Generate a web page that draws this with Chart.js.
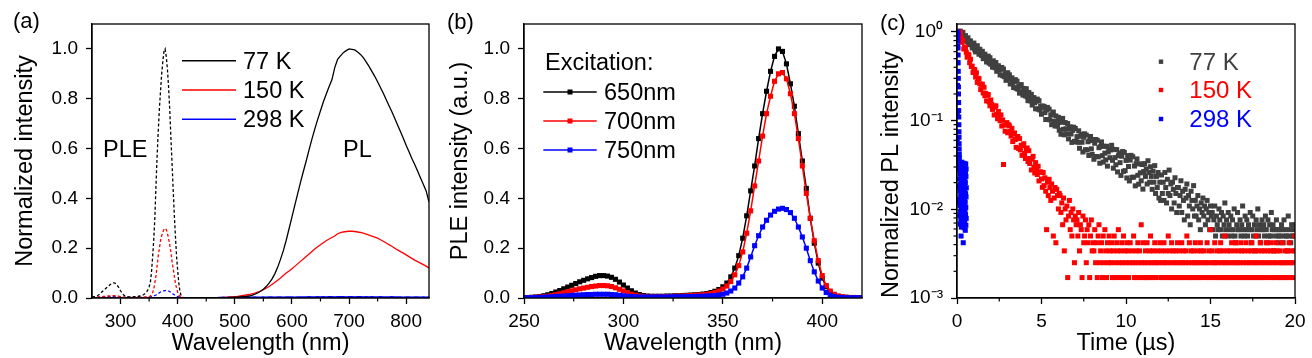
<!DOCTYPE html>
<html>
<head>
<meta charset="utf-8">
<script src="https://cdn.jsdelivr.net/npm/chart.js"></script>
<style>
html,body{margin:0;padding:0;background:#fff;}
#wrap{position:relative;width:1312px;height:358px;overflow:hidden;background:#fff;}
canvas{position:absolute;top:0;}
</style>
</head>
<body>
<div id="wrap">
<canvas id="ca" width="440" height="358" style="left:0px"></canvas>
<canvas id="cb" width="435" height="358" style="left:440px"></canvas>
<canvas id="cc" width="437" height="358" style="left:875px"></canvas>
</div>
<script>
// ---------------- DATA ----------------
const panelLabels = ['(a)', '(b)', '(c)'];
const regionLabels = ['PLE', 'PL'];
const tempLabels = ['77 K', '150 K', '298 K'];
const excitationTitle = 'Excitation:';
const excitationLabels = ['650nm', '700nm', '750nm'];

// (a) PLE (dashed) sampled 250..410 nm every 2 nm
const pleStartA = 250, pleEndA = 410, pleStepA = 2;
const ple77 = [0.003,0.004,0.005,0.006,0.008,0.010,0.013,0.017,0.021,0.026,
  0.030,0.034,0.038,0.042,0.046,0.050,0.054,0.057,0.060,0.061,
  0.060,0.057,0.052,0.045,0.037,0.029,0.022,0.016,0.011,0.008,
  0.006,0.005,0.004,0.004,0.004,0.004,0.004,0.005,0.005,0.006,
  0.006,0.007,0.008,0.009,0.011,0.013,0.016,0.020,0.026,0.034,
  0.045,0.060,0.100,0.160,0.230,0.320,0.450,0.570,0.670,0.760,
  0.830,0.900,0.950,0.990,1.000,0.970,0.920,0.850,0.760,0.650,
  0.550,0.440,0.340,0.250,0.170,0.110,0.060,0.025,0.010,0.004,
  0.002];
const ple150 = [0.002,0.002,0.002,0.003,0.003,0.003,0.004,0.004,0.005,0.005,
  0.006,0.006,0.007,0.007,0.008,0.008,0.008,0.009,0.009,0.009,
  0.009,0.008,0.008,0.007,0.006,0.005,0.004,0.003,0.003,0.002,
  0.002,0.002,0.002,0.002,0.002,0.002,0.002,0.002,0.002,0.002,
  0.002,0.002,0.002,0.003,0.003,0.003,0.003,0.004,0.004,0.005,
  0.006,0.008,0.012,0.020,0.035,0.060,0.090,0.130,0.170,0.200,
  0.230,0.250,0.265,0.275,0.280,0.275,0.260,0.240,0.215,0.185,
  0.150,0.120,0.090,0.060,0.040,0.022,0.012,0.006,0.003,0.002,
  0.001];
const ple298 = [0.002,0.002,0.002,0.002,0.003,0.003,0.003,0.003,0.004,0.004,
  0.004,0.004,0.005,0.005,0.005,0.005,0.005,0.006,0.006,0.006,
  0.006,0.005,0.005,0.005,0.004,0.004,0.003,0.003,0.002,0.002,
  0.002,0.002,0.002,0.002,0.002,0.002,0.002,0.002,0.002,0.002,
  0.002,0.002,0.002,0.002,0.002,0.002,0.002,0.002,0.003,0.003,
  0.003,0.004,0.005,0.006,0.008,0.010,0.012,0.015,0.018,0.021,
  0.024,0.026,0.028,0.029,0.030,0.031,0.030,0.028,0.026,0.023,
  0.020,0.016,0.013,0.010,0.007,0.005,0.004,0.003,0.002,0.001,
  0.001];

// (a) PL (solid) sampled 470..840 nm every 5 nm
const plStartA = 470, plEndA = 840, plStepA = 5;
const pl77 = [0.000,0.001,0.001,0.001,0.002,0.002,0.003,0.003,0.004,0.005,
  0.006,0.008,0.011,0.015,0.020,0.027,0.035,0.046,0.060,0.076,
  0.097,0.123,0.155,0.190,0.232,0.278,0.325,0.372,0.418,0.464,
  0.508,0.550,0.595,0.638,0.678,0.716,0.752,0.787,0.818,0.848,
  0.876,0.925,0.958,0.972,0.985,0.993,1.000,0.998,0.996,0.988,
  0.978,0.965,0.948,0.930,0.910,0.890,0.868,0.845,0.822,0.797,
  0.772,0.748,0.722,0.695,0.668,0.641,0.613,0.587,0.560,0.536,
  0.510,0.483,0.457,0.430,0.385];
const pl150 = [0.001,0.001,0.002,0.002,0.003,0.004,0.005,0.006,0.008,0.010,
  0.012,0.014,0.017,0.020,0.024,0.028,0.033,0.039,0.046,0.054,
  0.062,0.071,0.080,0.090,0.100,0.108,0.117,0.127,0.137,0.147,
  0.157,0.167,0.177,0.187,0.197,0.206,0.214,0.222,0.230,0.237,
  0.243,0.249,0.258,0.262,0.265,0.267,0.268,0.268,0.267,0.265,
  0.263,0.260,0.256,0.252,0.248,0.244,0.240,0.234,0.228,0.221,
  0.214,0.208,0.200,0.193,0.186,0.180,0.173,0.166,0.159,0.152,
  0.146,0.140,0.134,0.128,0.120];
const pl298 = [0.002,0.002,0.003,0.002,0.003,0.003,0.002,0.003,0.003,0.003,
  0.004,0.003,0.003,0.004,0.003,0.003,0.004,0.003,0.004,0.004,
  0.003,0.004,0.004,0.003,0.004,0.004,0.004,0.003,0.004,0.004,
  0.004,0.004,0.005,0.004,0.004,0.005,0.004,0.005,0.004,0.005,
  0.005,0.004,0.005,0.005,0.005,0.004,0.005,0.005,0.004,0.005,
  0.005,0.004,0.005,0.004,0.005,0.004,0.004,0.005,0.004,0.004,
  0.004,0.005,0.004,0.004,0.004,0.003,0.004,0.004,0.003,0.004,
  0.004,0.003,0.004,0.003,0.004];

// (b) PLE sampled 250..420 nm every 2 nm
const pleStartB = 250, pleEndB = 420, pleStepB = 2;
const ple650 = [0.002,0.002,0.003,0.004,0.006,0.009,0.013,0.018,0.024,0.030,
  0.037,0.044,0.051,0.058,0.065,0.071,0.077,0.082,0.087,0.090,
  0.090,0.088,0.083,0.075,0.064,0.052,0.040,0.029,0.020,0.014,
  0.010,0.008,0.007,0.007,0.007,0.007,0.008,0.008,0.009,0.009,
  0.010,0.011,0.012,0.013,0.014,0.016,0.018,0.022,0.027,0.034,
  0.045,0.060,0.085,0.120,0.170,0.240,0.330,0.430,0.530,0.640,
  0.740,0.830,0.910,0.970,1.000,0.990,0.940,0.860,0.770,0.660,
  0.550,0.440,0.320,0.220,0.140,0.080,0.045,0.024,0.013,0.007,
  0.004,0.003,0.002,0.002,0.001,0.001];
const ple700 = [0.001,0.001,0.002,0.003,0.004,0.005,0.007,0.010,0.013,0.017,
  0.021,0.025,0.029,0.033,0.037,0.040,0.043,0.046,0.048,0.050,
  0.050,0.049,0.046,0.041,0.035,0.028,0.021,0.015,0.011,0.008,
  0.006,0.005,0.005,0.005,0.005,0.005,0.006,0.006,0.007,0.007,
  0.008,0.009,0.010,0.011,0.012,0.013,0.015,0.018,0.022,0.028,
  0.036,0.048,0.066,0.093,0.130,0.185,0.260,0.350,0.450,0.550,
  0.650,0.740,0.810,0.870,0.900,0.905,0.880,0.820,0.740,0.640,
  0.530,0.420,0.320,0.230,0.150,0.090,0.050,0.028,0.015,0.008,
  0.005,0.003,0.002,0.002,0.001,0.001];
const ple750 = [0.001,0.001,0.001,0.002,0.002,0.003,0.004,0.005,0.006,0.007,
  0.008,0.009,0.010,0.011,0.012,0.013,0.014,0.014,0.015,0.015,
  0.015,0.015,0.014,0.013,0.011,0.009,0.007,0.006,0.005,0.004,
  0.004,0.004,0.004,0.004,0.004,0.004,0.004,0.005,0.005,0.005,
  0.005,0.006,0.006,0.006,0.007,0.007,0.008,0.009,0.010,0.012,
  0.015,0.020,0.028,0.040,0.060,0.085,0.120,0.165,0.210,0.250,
  0.285,0.312,0.333,0.348,0.357,0.360,0.355,0.343,0.320,0.285,
  0.245,0.200,0.150,0.105,0.068,0.040,0.022,0.012,0.006,0.003,
  0.002,0.001,0.001,0.001,0.001,0.001];

// (c) decay curves: 77 K and 150 K from 0.10 us every 0.05 us; 298 K from 0 us every 0.005 us
const decayStart = 0.10, decayStep = 0.05;
const decay77 = [
  1.02,0.95,1.02,0.88,0.98,0.99,0.87,0.81,0.91,0.84,0.78,0.86,0.72,0.79,0.79,0.72,0.66,0.73,0.75,0.63,
  0.596,0.68,0.70,0.603,0.561,0.639,0.585,0.543,0.605,0.50,0.556,0.562,0.51,0.459,0.52,0.534,0.446,0.512,0.432,0.461,
  0.401,0.473,0.428,0.395,0.452,0.36,0.41,0.416,0.371,0.328,0.384,0.398,0.322,0.382,0.314,0.339,0.285,0.336,0.347,0.293,
  0.329,0.259,0.298,0.304,0.269,0.236,0.279,0.29,0.232,0.279,0.226,0.246,0.204,0.245,0.255,0.212,0.194,0.231,0.207,0.19,
  0.229,0.186,0.168,0.208,0.184,0.167,0.198,0.15,0.178,0.182,0.159,0.136,0.166,0.175,0.135,0.168,0.132,0.146,0.118,0.146,
  0.141,0.145,0.123,0.103,0.132,0.141,0.103,0.135,0.102,0.116,0.09,0.118,0.125,0.098,0.087,0.113,0.098,0.087,0.109,0.078,
  0.0955,0.0702,0.0982,0.106,0.0799,0.0692,0.0952,0.081,0.0712,0.0927,0.0622,0.0814,0.0851,0.0707,0.0568,0.0779,0.0843,0.0585,0.0815,0.0582,
  0.066,0.0569,0.0768,0.0488,0.0667,0.0702,0.057,0.0443,0.0649,0.0711,0.047,0.0686,0.0468,0.0578,0.0405,0.0596,0.0663,0.0481,0.0416,0.0599,
  0.0367,0.0556,0.0613,0.0394,0.0601,0.0391,0.0496,0.0331,0.0513,0.0576,0.0403,0.0341,0.0514,0.043,0.0361,0.0514,0.0307,0.0444,0.0473,0.0382,
  0.0467,0.0527,0.0357,0.0291,0.0474,0.0383,0.0318,0.0471,0.0264,0.0402,0.0433,0.0336,0.0241,0.0397,0.0448,0.0268,0.0439,0.0273,0.0356,0.0226,
  0.0403,0.0304,0.0209,0.0359,0.0406,0.0229,0.0392,0.0231,0.0308,0.0184,0.0327,0.037,0.0242,0.0192,0.0326,0.0258,0.021,0.032,0.0169,0.0267,
  0.0328,0.0235,0.0286,0.0193,0.0353,0.026,0.0202,0.0302,0.0235,0.0168,0.0269,0.0202,0.0311,0.0151,0.0235,0.0176,0.026,0.0134,0.0202,0.0126,
  0.0244,0.0151,0.0202,0.0126,0.026,0.0176,0.0118,0.0218,0.0151,0.0277,0.0143,0.0193,0.0101,0.0202,0.0168,0.0118,0.0227,0.0151,0.0092,0.0176,
  0.0176,0.0109,0.0143,0.021,0.0092,0.016,0.0126,0.0076,0.0168,0.0134,0.0193,0.0084,0.0143,0.0109,0.0067,0.016,0.0126,0.0101,0.0185,0.0084,
  0.0126,0.0084,0.0109,0.0143,0.0076,0.0101,0.0059,0.0118,0.0092,0.0134,0.0084,0.0109,0.0067,0.0101,0.0126,0.0076,0.0092,0.0059,0.0109,0.0084,
  0.0092,0.0059,0.0076,0.0109,0.005,0.0084,0.0067,0.0059,0.0101,0.0076,0.0059,0.0092,0.005,0.0084,0.0067,0.0118,0.0059,0.0076,0.005,0.0092,
  0.0067,0.0059,0.0084,0.005,0.0076,0.0059,0.0101,0.005,0.0042,0.0067,0.0092,0.0059,0.0059,0.0076,0.005,0.0067,0.0109,0.0059,0.005,0.0084,
  0.0059,0.0076,0.005,0.0067,0.0059,0.0092,0.0042,0.0059,0.0084,0.005,0.0067,0.0034,0.0076,0.0059,0.0101,0.005,0.0067,0.0042,0.0059,0.0076,
  0.0059,0.0067,0.005,0.0084,0.0059,0.0042,0.0076,0.005,0.0067,0.005,0.0092,0.0059,0.0067,0.0034,0.0059,0.005,0.0076,0.0059,0.0042,0.005,
  0.0059,0.005,0.0067,0.0059,0.0042,0.0076,0.005,0.0059,0.005,0.0034,0.0084,0.005,0.0059,0.0042,0.0067,0.005,0.0059,0.005,0.0067];
const decay150 = [
  0.954,1.0,0.989,0.86,0.764,0.799,0.643,0.678,0.664,0.589,0.519,0.559,0.551,0.45,0.492,0.407,0.412,0.349,0.378,0.376,
  0.31,0.346,0.27,0.3,0.298,0.26,0.224,0.256,0.258,0.205,0.238,0.191,0.203,0.167,0.193,0.197,0.163,0.147,0.171,0.152,
  0.134,0.146,0.116,0.142,0.147,0.118,0.105,0.127,0.111,0.1,0.116,0.087,0.102,0.032,0.089,0.076,0.092,0.095,0.073,0.09,
  0.0873,0.0755,0.0669,0.0818,0.0582,0.0711,0.0726,0.0612,0.05,0.0632,0.0662,0.0485,0.0627,0.0468,0.0528,0.0406,0.0523,0.0549,0.0426,0.0374,
  0.0467,0.0492,0.0346,0.0458,0.0329,0.0374,0.0278,0.0369,0.0396,0.0299,0.0257,0.0336,0.0285,0.0247,0.0306,0.0209,0.0261,0.0265,0.022,0.0177,
  0.026,0.0185,0.0227,0.016,0.0059,0.0202,0.0143,0.0218,0.0176,0.0126,0.0193,0.016,0.005,0.0134,0.0176,0.0042,0.0168,0.0143,0.0101,0.0151,
  0.0143,0.0092,0.0118,0.0067,0.0134,0.0034,0.0101,0.0076,0.0109,0.0017,0.0084,0.0126,0.0059,0.0092,0.005,0.0101,0.0076,0.0025,0.0084,0.0067,
  0.0076,0.005,0.0092,0.0034,0.0067,0.0059,0.0017,0.0084,0.0042,0.005,0.0076,0.0025,0.0059,0.0042,0.0067,0.0017,0.005,0.0076,0.0034,0.0042,
  0.0034,0.0059,0.0025,0.0042,0.0017,0.005,0.0067,0.0025,0.0034,0.0042,0.0017,0.005,0.0025,0.0059,0.0034,0.0017,0.0042,0.0025,0.005,0.0034,
  0.0025,0.0042,0.0017,0.0034,0.005,0.0025,0.0017,0.0042,0.0034,0.0059,0.0025,0.0017,0.0034,0.0042,0.0025,0.005,0.0017,0.0034,0.0025,0.0042,
  0.0034,0.0017,0.0025,0.0042,0.0008,0.0034,0.0025,0.005,0.0017,0.0025,0.0034,0.0017,0.0042,0.0025,0.0034,0.0017,0.0067,0.0025,0.0042,0.0017,
  0.0025,0.0034,0.0017,0.0042,0.0025,0.0017,0.0034,0.005,0.0025,0.0017,0.0034,0.0025,0.0042,0.0017,0.0025,0.0034,0.0008,0.0025,0.0042,0.0017,
  0.0034,0.0025,0.0017,0.0042,0.0025,0.0034,0.0017,0.0025,0.005,0.0017,0.0034,0.0025,0.0042,0.0017,0.0034,0.0025,0.0017,0.0034,0.0025,0.0042,
  0.0017,0.0034,0.0025,0.0017,0.0042,0.0025,0.0034,0.0017,0.0025,0.0034,0.005,0.0017,0.0025,0.0042,0.0017,0.0034,0.0025,0.0017,0.0034,0.0025,
  0.0042,0.0017,0.0025,0.0034,0.0017,0.0025,0.0042,0.0034,0.0017,0.0025,0.0034,0.0008,0.0025,0.0017,0.0042,0.0025,0.0034,0.0017,0.0059,0.0025,
  0.0034,0.0017,0.0025,0.0042,0.0025,0.0017,0.0034,0.0025,0.0017,0.0034,0.0042,0.0025,0.0017,0.0034,0.0025,0.005,0.0017,0.0025,0.0034,0.0017,
  0.0025,0.0034,0.0017,0.0042,0.0025,0.0017,0.0034,0.0025,0.0042,0.0017,0.0025,0.0034,0.0017,0.0025,0.0042,0.0034,0.0017,0.0025,0.0034,0.0017,
  0.0042,0.0025,0.0017,0.0034,0.0025,0.0017,0.0034,0.0042,0.0025,0.0017,0.0034,0.0025,0.005,0.0017,0.0025,0.0034,0.0017,0.0042,0.0025,0.0034,
  0.0017,0.0025,0.0034,0.0017,0.0042,0.0025,0.0034,0.0017,0.0025,0.0034,0.0042,0.0017,0.0025,0.0034,0.0017,0.0025,0.0042,0.0034,0.0017,0.0025,
  0.0034,0.0017,0.0025,0.0042,0.0025,0.0017,0.0034,0.0025,0.0017,0.0034,0.0025,0.0042,0.0017,0.0025,0.0034,0.0017,0.0025,0.0034,0.005];
const fastStart = 0.00, fastStep = 0.005;
const decay298 = [0.012,0.018,0.03,0.06,0.12,0.25,0.45,0.7,0.9,1.0,0.95,0.8,0.66,0.55,0.45,0.36,0.3,0.24,0.2,0.16,
  0.13,0.11,0.09,0.075,0.065,0.055,0.048,0.042,0.038,0.034,0.031,
  0.028,0.013,0.022,0.0085,0.031,0.016,0.011,0.025,0.0068,0.019,
  0.033,0.0095,0.014,0.027,0.0075,0.021,0.012,0.005,0.03,0.017,
  0.0063,0.024,0.0105,0.029,0.015,0.0082,0.02,0.034,0.0118,0.0072,
  0.026,0.018,0.0092,0.032,0.0135,0.0065,0.023,0.0155,0.0088,0.028,
  0.011,0.0195,0.0078,0.0042,0.025,0.0125,0.031,0.0068,0.017,0.0215,
  0.0098,0.027,0.0145,0.0062,0.033,0.0112,0.0185,0.0082,0.024,0.013,
  0.0295,0.0071,0.016,0.0225,0.0095,0.0305,0.012,0.0058,0.02,0.026,
  0.0087,0.015,0.0325,0.0105,0.0066,0.0235,0.0138,0.0285,0.0079,0.0175];

// tick labels
const xTicksA = [300, 400, 500, 600, 700, 800];
const xMinorA = [350, 450, 550, 650, 750];
const yTicksAB = [0, 0.2, 0.4, 0.6, 0.8, 1.0];
const xTicksB = [250, 300, 350, 400];
const xMinorB = [275, 325, 375];
const xTicksC = [0, 5, 10, 15, 20];
const xMinorC = [2.5, 7.5, 12.5, 17.5];
const yTicksC = [0.001, 0.01, 0.1, 1];
const yTickLabelsC = ['10\u207B\u00B3', '10\u207B\u00B2', '10\u207B\u00B9', '10\u2070'];
const yMinorC = [0.002,0.003,0.004,0.005,0.006,0.007,0.008,0.009,0.02,0.03,0.04,0.05,0.06,0.07,0.08,0.09,0.2,0.3,0.4,0.5,0.6,0.7,0.8,0.9];

// ---------------- HELPERS ----------------
const FONT = "'Liberation Sans', Arial, Helvetica, sans-serif";
Chart.defaults.font.family = FONT;
Chart.defaults.color = '#000';
Chart.defaults.animation = false;

function grid(a, b, step) { const out = []; const n = Math.round((b - a) / step); for (let i = 0; i <= n; i++) out.push(+(a + i * step).toFixed(3)); return out; }
function seq(start, step, n) { const out = []; for (let i = 0; i < n; i++) out.push(+(start + i * step).toFixed(3)); return out; }
function pts(xs, ys) { return ys.map((y, i) => ({ x: xs[i], y })); }

const wlPleA = grid(pleStartA, pleEndA, pleStepA);
const wlPlA = grid(plStartA, plEndA, plStepA);
const wlB = grid(pleStartB, pleEndB, pleStepB);
const tSlow = seq(decayStart, decayStep, decay77.length);
const tFast = seq(fastStart, fastStep, decay298.length);

const COLORS = { k: '#000000', r: '#ff0000', b: '#0000ff', g: '#404040' };

function xAxis(min, max, ticks, title, height) {
  return {
    type: 'linear', min, max,
    afterBuildTicks: s => { s.ticks = ticks.map(v => ({ value: v })); },
    afterFit: s => { s.height = height; },
    ticks: { font: { size: 19 }, color: '#000', padding: 6, maxRotation: 0, autoSkip: false, callback: v => String(v) },
    grid: { display: true, drawOnChartArea: false, drawTicks: true, tickLength: 6, tickWidth: 1.3, color: '#000' },
    border: { display: true, color: '#000', width: 1.3 },
    title: { display: true, text: title, color: '#000', font: { size: 23.5 }, padding: { top: 0, bottom: 0 } }
  };
}
function yAxisLin(min, max, ticks, title, width, titlePad) {
  return {
    type: 'linear', min, max,
    afterBuildTicks: s => { s.ticks = ticks.map(v => ({ value: v })); },
    afterFit: s => { s.width = width; },
    ticks: { font: { size: 19 }, color: '#000', padding: 8, autoSkip: false, callback: v => Number(v).toFixed(1) },
    grid: { display: true, drawOnChartArea: false, drawTicks: true, tickLength: 6, tickWidth: 1.3, color: '#000' },
    border: { display: true, color: '#000', width: 1.3 },
    title: { display: true, text: title, color: '#000', font: { size: 23.5 }, padding: { top: titlePad, bottom: 0 } }
  };
}

const framePlugin = {
  id: 'frame',
  afterDatasetsDraw(chart, args, opts) {
    const { ctx, chartArea: a, scales } = chart;
    ctx.save();
    ctx.strokeStyle = '#000';
    ctx.lineWidth = 1.3;
    ctx.strokeRect(a.left, a.top, a.right - a.left, a.bottom - a.top);
    ctx.lineWidth = 1.2;
    (opts.minorX || []).forEach(v => {
      const x = scales.x.getPixelForValue(v);
      ctx.beginPath(); ctx.moveTo(x, a.bottom); ctx.lineTo(x, a.bottom + 3.5); ctx.stroke();
    });
    (opts.minorY || []).forEach(v => {
      const y = scales.y.getPixelForValue(v);
      ctx.beginPath(); ctx.moveTo(a.left, y); ctx.lineTo(a.left - 3.5, y); ctx.stroke();
    });
    ctx.restore();
  }
};

function txt(ctx, s, x, y, size, color) {
  ctx.font = size + 'px ' + FONT;
  ctx.fillStyle = color || '#000';
  ctx.textAlign = 'left';
  ctx.textBaseline = 'alphabetic';
  ctx.fillText(s, x, y);
}

// ---------------- CHART A ----------------
const annoA = {
  id: 'annoA',
  afterDraw(chart) {
    const ctx = chart.ctx;
    ctx.save();
    txt(ctx, panelLabels[0], 13, 27.5, 22);
    txt(ctx, regionLabels[0], 103, 156.5, 23.5);
    txt(ctx, regionLabels[1], 343, 156.5, 23.5);
    const rows = [60.7, 90, 119.3];
    tempLabels.forEach((lab, i) => {
      const ds = chart.data.datasets[3 + i];
      ctx.strokeStyle = ds.borderColor; ctx.lineWidth = 1.6;
      ctx.beginPath(); ctx.moveTo(182, rows[i]); ctx.lineTo(236, rows[i]); ctx.stroke();
      txt(ctx, lab, 243, rows[i] + 8, 23.5);
    });
    ctx.restore();
  }
};
function dashed(label, data, color) {
  return { label, data, borderColor: color, borderWidth: 1.3, borderDash: [3, 2.2], pointRadius: 0, fill: false, tension: 0 };
}
function solid(label, data, color) {
  return { label, data, borderColor: color, borderWidth: 1.3, pointRadius: 0, fill: false, tension: 0 };
}
new Chart(document.getElementById('ca'), {
  type: 'line',
  data: {
    datasets: [
      dashed('PLE ' + tempLabels[0], pts(wlPleA, ple77), COLORS.k),
      dashed('PLE ' + tempLabels[1], pts(wlPleA, ple150), COLORS.r),
      dashed('PLE ' + tempLabels[2], pts(wlPleA, ple298), COLORS.b),
      solid(tempLabels[0], pts(wlPlA, pl77), COLORS.k),
      solid(tempLabels[1], pts(wlPlA, pl150), COLORS.r),
      solid(tempLabels[2], pts(wlPlA, pl298), COLORS.b)
    ]
  },
  options: {
    responsive: false, animation: false, devicePixelRatio: 1, events: [],
    layout: { padding: { left: 0, right: 11, top: 24, bottom: 0 } },
    scales: {
      x: xAxis(250, 840, xTicksA, 'Wavelength (nm)', 60),
      y: yAxisLin(0, 1.1, yTicksAB, 'Normalized intensity', 92, 11)
    },
    plugins: { legend: { display: false }, tooltip: { enabled: false }, frame: { minorX: xMinorA } }
  },
  plugins: [framePlugin, annoA]
});

// ---------------- CHART B ----------------
const annoB = {
  id: 'annoB',
  afterDraw(chart) {
    const ctx = chart.ctx;
    ctx.save();
    txt(ctx, panelLabels[1], 7, 28.6, 22);
    txt(ctx, excitationTitle, 105, 70, 23.5);
    const rows = [92, 121, 150];
    excitationLabels.forEach((lab, i) => {
      const ds = chart.data.datasets[i];
      ctx.strokeStyle = ds.borderColor; ctx.lineWidth = 1.6;
      ctx.beginPath(); ctx.moveTo(103.3, rows[i]); ctx.lineTo(156.7, rows[i]); ctx.stroke();
      ctx.fillStyle = ds.borderColor;
      ctx.fillRect(130 - 2.5, rows[i] - 2.5, 5, 5);
      txt(ctx, lab, 164, rows[i] + 8, 23.5);
    });
    ctx.restore();
  }
};
function markLine(label, data, color, order) {
  return { label, data, borderColor: color, backgroundColor: color, borderWidth: 1.5, pointStyle: 'rect', pointRadius: 3.6,
    pointBorderWidth: 0, pointBackgroundColor: color, fill: false, tension: 0, order };
}
new Chart(document.getElementById('cb'), {
  type: 'line',
  data: {
    datasets: [
      markLine(excitationLabels[0], pts(wlB, ple650), COLORS.k, 3),
      markLine(excitationLabels[1], pts(wlB, ple700), COLORS.r, 2),
      markLine(excitationLabels[2], pts(wlB, ple750), COLORS.b, 1)
    ]
  },
  options: {
    responsive: false, animation: false, devicePixelRatio: 1, events: [],
    layout: { padding: { left: 0, right: 13, top: 24, bottom: 0 } },
    scales: {
      x: xAxis(250, 420, xTicksB, 'Wavelength (nm)', 60),
      y: yAxisLin(0, 1.1, yTicksAB, 'PLE intensity (a.u.)', 84, 6)
    },
    plugins: { legend: { display: false }, tooltip: { enabled: false }, frame: { minorX: xMinorB } }
  },
  plugins: [framePlugin, annoB]
});

// ---------------- CHART C ----------------
const annoC = {
  id: 'annoC',
  afterDraw(chart) {
    const ctx = chart.ctx;
    ctx.save();
    txt(ctx, panelLabels[2], 5, 30.3, 22);
    const rows = [61.7, 90, 119];
    tempLabels.forEach((lab, i) => {
      const ds = chart.data.datasets[i];
      ctx.fillStyle = ds.backgroundColor;
      ctx.fillRect(286 - 2.2, rows[i] - 2.2, 4.4, 4.4);
      txt(ctx, lab, 314.3, rows[i] + 8.3, 24, ds.backgroundColor);
    });
    ctx.restore();
  }
};
function scat(label, data, color, order) {
  return { label, data, backgroundColor: color, borderColor: color, pointBackgroundColor: color, pointStyle: 'rect',
    pointRadius: 3.55, pointBorderWidth: 0, showLine: false, order };
}
new Chart(document.getElementById('cc'), {
  type: 'scatter',
  data: {
    datasets: [
      scat(tempLabels[0], pts(tSlow, decay77), COLORS.g, 3),
      scat(tempLabels[1], pts(tSlow, decay150), COLORS.r, 2),
      scat(tempLabels[2], pts(tFast, decay298), COLORS.b, 1)
    ]
  },
  options: {
    responsive: false, animation: false, devicePixelRatio: 1, events: [],
    layout: { padding: { left: 0, right: 17, top: 24, bottom: 0 } },
    scales: {
      x: xAxis(0, 20, xTicksC, 'Time (\u00B5s)', 60),
      y: {
        type: 'logarithmic', min: 0.001, max: 1.23,
        afterBuildTicks: s => { s.ticks = yTicksC.map(v => ({ value: v })); },
        afterFit: s => { s.width = 82; },
        ticks: { font: { size: 19 }, color: '#000', padding: 8, autoSkip: false,
          callback: (v, i) => yTickLabelsC[i] },
        grid: { display: true, drawOnChartArea: false, drawTicks: true, tickLength: 6, tickWidth: 1.3, color: '#000' },
        border: { display: true, color: '#000', width: 1.3 },
        title: { display: true, text: 'Normalized PL intensity', align: 'start', color: '#000', font: { size: 23.5 }, padding: { top: 2, bottom: 0 } }
      }
    },
    plugins: { legend: { display: false }, tooltip: { enabled: false }, frame: { minorX: xMinorC, minorY: yMinorC } }
  },
  plugins: [framePlugin, annoC]
});
</script>
</body>
</html>
